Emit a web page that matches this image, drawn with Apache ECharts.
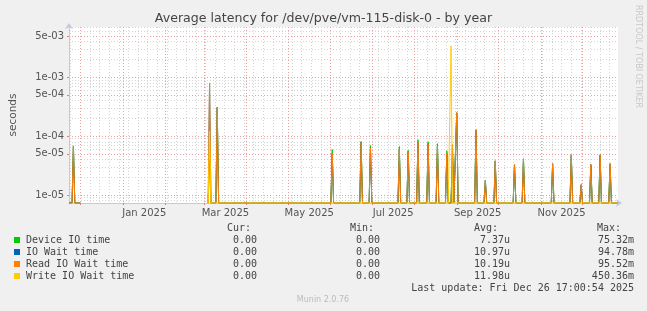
<!DOCTYPE html>
<html><head><meta charset="utf-8">
<script src="https://cdn.jsdelivr.net/npm/echarts@6/dist/echarts.min.js"></script>
<style>html,body{margin:0;padding:0;background:#f0f0f0;}#c{width:647px;height:311px;}</style>
</head><body><div id="c"></div>
<script>
// ---------- data ----------
const titleText = 'Average latency for /dev/pve/vm-115-disk-0 - by year';
const seriesNames = ['Device IO time', 'IO Wait time', 'Read IO Wait time', 'Write IO Wait time'];
const seriesColors = ['#00cc00', '#0066b3', '#ff8000', '#ffcc00'];
const curVals = ['0.00', '0.00', '0.00', '0.00'];
const minVals = ['0.00', '0.00', '0.00', '0.00'];
const avgVals = ['7.37u', '10.97u', '10.19u', '11.98u'];
const maxVals = ['75.32m', '94.78m', '95.52m', '450.36m'];
const lastUpdate = 'Last update: Fri Dec 26 17:00:54 2025';

// spike days (all other days in a data period are 0)
const spikeDates = ['2024-11-26 00:00', '2025-03-05 00:00', '2025-03-10 14:00', '2025-06-02 05:00',
  '2025-06-23 05:00', '2025-06-30 00:00', '2025-07-21 00:00', '2025-07-27 11:00', '2025-08-03 13:00',
  '2025-08-10 22:00', '2025-08-17 17:00', '2025-08-24 13:00', '2025-08-27 15:00', '2025-08-28 15:00',
  '2025-08-31 18:00', '2025-09-14 18:00', '2025-09-21 13:00', '2025-09-28 18:00', '2025-10-12 18:00',
  '2025-10-19 06:00', '2025-11-09 11:00', '2025-11-23 01:00', '2025-11-30 06:00', '2025-12-07 06:00',
  '2025-12-14 00:00', '2025-12-21 06:00'];
const deviceIO = [6.6e-5, 4.0e-5, 3.0e-4, 5.9e-5, 8.1e-5, 6.9e-5, 6.6e-5, 5.7e-5, 8.7e-5, 8.0e-5, 7.4e-5,
  5.6e-5, 0, 4.5e-5, 2.4e-4, 1.2e-4, 1.7e-5, 3.7e-5, 3.2e-5, 4.0e-5, 3.3e-5, 4.7e-5, 1.45e-5, 3.2e-5, 4.7e-5, 3.3e-5];
const ioWait = [6.8e-5, 7.9e-4, 3.1e-4, 5.15e-5, 7.8e-5, 6.3e-5, 6.0e-5, 5.5e-5, 7.9e-5, 7.4e-5, 6.8e-5,
  5.15e-5, 0, 7.1e-5, 2.5e-4, 1.28e-4, 1.77e-5, 3.8e-5, 3.3e-5, 4.1e-5, 3.4e-5, 4.8e-5, 1.5e-5, 3.3e-5, 4.8e-5, 3.4e-5];
const readWait = [6.8e-5, 7.9e-4, 3.1e-4, 5.15e-5, 7.8e-5, 6.3e-5, 6.0e-5, 5.5e-5, 7.9e-5, 7.4e-5, 6.8e-5,
  5.15e-5, 0, 7.1e-5, 2.5e-4, 1.28e-4, 1.77e-5, 3.8e-5, 3.3e-5, 4.1e-5, 3.4e-5, 4.8e-5, 1.5e-5, 3.3e-5, 4.8e-5, 3.4e-5];
const writeWait = [null, 1.2e-4, 0, 0, 0, 0, 0, 0, 0, 0, 0,
  0, 3.4e-3, 0, 0, 0, 0, 0, 0, 0, 0, 0, 0, 0, 0, 0];
// periods with data (gap in between = unknown)
const dataPeriods = [['2024-11-22 19:00', '2024-12-01 00:00'], ['2025-03-04 00:00', '2025-12-27 00:00']];

const xMin = '2024-11-22 19:00', xMax = '2025-12-27 00:00';
const yMin = 7.3e-6, yMax = 7.1e-3;
const yTickValues = [1e-5, 5e-5, 1e-4, 5e-4, 1e-3, 5e-3];
const yMinorValues = [8e-6, 9e-6, 2e-5, 3e-5, 4e-5, 6e-5, 7e-5, 8e-5, 9e-5,
  2e-4, 3e-4, 4e-4, 6e-4, 7e-4, 8e-4, 9e-4, 2e-3, 3e-3, 4e-3, 6e-3, 7e-3];
const monthStarts = ['2024-12-01', '2025-01-01', '2025-02-01', '2025-03-01', '2025-04-01', '2025-05-01',
  '2025-06-01', '2025-07-01', '2025-08-01', '2025-09-01', '2025-10-01', '2025-11-01', '2025-12-01'];
const xLabelDates = ['2025-01-16 12:00', '2025-03-16 12:00', '2025-05-16 12:00', '2025-07-16 12:00', '2025-09-16 00:00', '2025-11-16 00:00'];
const monthNames = ['Jan', 'Feb', 'Mar', 'Apr', 'May', 'Jun', 'Jul', 'Aug', 'Sep', 'Oct', 'Nov', 'Dec'];

// ---------- build ----------
const DAY = 86400000;
const T = s => new Date(s.length === 10 ? s + 'T00:00' : s.replace(' ', 'T')).getTime();
const weekLines = [];
for (let t = T('2024-11-24'); t <= T(xMax); t += 7 * DAY) weekLines.push(t);

function build(vals) {
  const out = [];
  dataPeriods.forEach((p) => {
    const s = T(p[0]), e = T(p[1]);
    const idx = spikeDates.map((d, i) => i).filter(i => T(spikeDates[i]) >= s && T(spikeDates[i]) <= e);
    if (!idx.some(i => vals[i] !== null)) return;
    const m = new Map();
    idx.forEach(i => m.set(T(spikeDates[i]), vals[i] || 0));
    idx.forEach(i => {
      const t = T(spikeDates[i]);
      [t - DAY, t + DAY].forEach(n => { if (!m.has(n) && n > s && n < e) m.set(n, 0); });
    });
    if (!m.has(s)) m.set(s, 0);
    if (!m.has(e)) m.set(e, 0);
    if (out.length) out.push([s - 1, null]);
    [...m.entries()].sort((a, b) => a[0] - b[0]).forEach(([t, v]) => out.push([t, v > 0 ? v : yMin]));
  });
  return out;
}
const allVals = [deviceIO, ioWait, readWait, writeWait];

const FONT = 'DejaVu Sans';
const MONO = 'DejaVu Sans Mono';
const axisCol = '#c4c8e8';
const redGrid = { color: '#e8a0a0', type: [1, 2], width: 1 };
const grayGrid = { color: '#d4d4d4', type: [1, 2], width: 1 };

const fmtExp = v => {
  const s = Number(v).toExponential(0);
  const [m, e] = s.split('e');
  const n = parseInt(e, 10);
  return m + 'e' + (n < 0 ? '-' : '+') + String(Math.abs(n)).padStart(2, '0');
};

const graphic = [];
graphic.push({ type: 'text', x: 638, y: 5, rotation: -Math.PI / 2,
  style: { text: 'RRDTOOL / TOBI OETIKER', fill: '#c8c8c8', font: '8px ' + FONT, textAlign: 'left', textVerticalAlign: 'middle' } });
const headers = ['Cur:', 'Min:', 'Avg:', 'Max:'];
const headerRight = [251, 374, 498, 621];
const colRight = [257, 380, 510, 634];
headers.forEach((h, i) => graphic.push({ type: 'text', x: headerRight[i], y: 228,
  style: { text: h, fill: '#444', font: '10px ' + MONO, textAlign: 'right', textVerticalAlign: 'middle' } }));
seriesNames.forEach((n, i) => {
  const y = 240 + i * 12;
  graphic.push({ type: 'rect', shape: { x: 14, y: y - 3, width: 6, height: 6 }, style: { fill: seriesColors[i] } });
  graphic.push({ type: 'text', x: 26, y: y, style: { text: n, fill: '#444', font: '10px ' + MONO, textAlign: 'left', textVerticalAlign: 'middle' } });
  [curVals, minVals, avgVals, maxVals].forEach((arr, c) => graphic.push({ type: 'text', x: colRight[c], y: y,
    style: { text: arr[i], fill: '#444', font: '10px ' + MONO, textAlign: 'right', textVerticalAlign: 'middle' } }));
});
graphic.push({ type: 'text', x: 634, y: 288, style: { text: lastUpdate, fill: '#444', font: '10px ' + MONO, textAlign: 'right', textVerticalAlign: 'middle' } });
graphic.push({ type: 'text', x: 323, y: 300, style: { text: 'Munin 2.0.76', fill: '#bbbbbb', font: '8px ' + FONT, textAlign: 'center', textVerticalAlign: 'middle' } });

const chart = echarts.init(document.getElementById('c'), null, { renderer: 'canvas' });
chart.setOption({
  animation: false,
  backgroundColor: '#f0f0f0',
  title: { text: titleText, left: 'center', top: 12, padding: 0,
    textStyle: { fontFamily: FONT, fontSize: 12.6, fontWeight: 'normal', color: '#444' } },
  grid: { left: 67, right: 29, top: 27, bottom: 108, show: true, backgroundColor: '#ffffff', borderWidth: 0 },
  xAxis: [
    { type: 'value', position: 'bottom', min: T(xMin), max: T(xMax), axisLine: { show: false }, axisLabel: { show: false },
      axisTick: { show: false, customValues: weekLines }, splitLine: { show: true, lineStyle: grayGrid } },
    { type: 'value', position: 'bottom', min: T(xMin), max: T(xMax),
      axisLine: { show: true, lineStyle: { color: axisCol, width: 1 }, symbol: ['none', 'arrow'], symbolSize: [6, 6], symbolOffset: [0, 4] },
      axisTick: { show: true, length: 2, lineStyle: { color: '#e08080' }, customValues: monthStarts.map(T) },
      axisLabel: { show: true, customValues: xLabelDates.map(T), margin: 5, color: '#555', fontFamily: FONT, fontSize: 10,
        formatter: v => { const d = new Date(v); return monthNames[d.getMonth()] + ' ' + d.getFullYear(); } },
      splitLine: { show: true, lineStyle: redGrid } }
  ],
  yAxis: [
    { type: 'log', position: 'left', min: yMin, max: yMax, axisLine: { show: false }, axisLabel: { show: false },
      axisTick: { show: false, customValues: yMinorValues }, splitLine: { show: true, lineStyle: grayGrid } },
    { type: 'log', position: 'left', min: yMin, max: yMax, name: 'seconds', nameLocation: 'middle', nameGap: 50, nameRotate: 90,
      nameTextStyle: { fontFamily: FONT, fontSize: 10.5, color: '#555' },
      axisLine: { show: true, lineStyle: { color: axisCol, width: 1 }, symbol: ['none', 'arrow'], symbolSize: [6, 6], symbolOffset: [0, 4] },
      axisTick: { show: true, length: 2, lineStyle: { color: '#e08080' }, customValues: yTickValues },
      axisLabel: { show: true, customValues: yTickValues, margin: 5, color: '#555', fontFamily: FONT, fontSize: 10, formatter: fmtExp },
      splitLine: { show: true, lineStyle: redGrid } }
  ],
  series: seriesNames.map((n, i) => ({
    name: n, type: 'line', xAxisIndex: 1, yAxisIndex: 1, showSymbol: false, symbol: 'none',
    connectNulls: false, color: seriesColors[i], lineStyle: { width: 1, color: seriesColors[i] },
    data: build(allVals[i])
  })),
  graphic: graphic
});
</script></body></html>
